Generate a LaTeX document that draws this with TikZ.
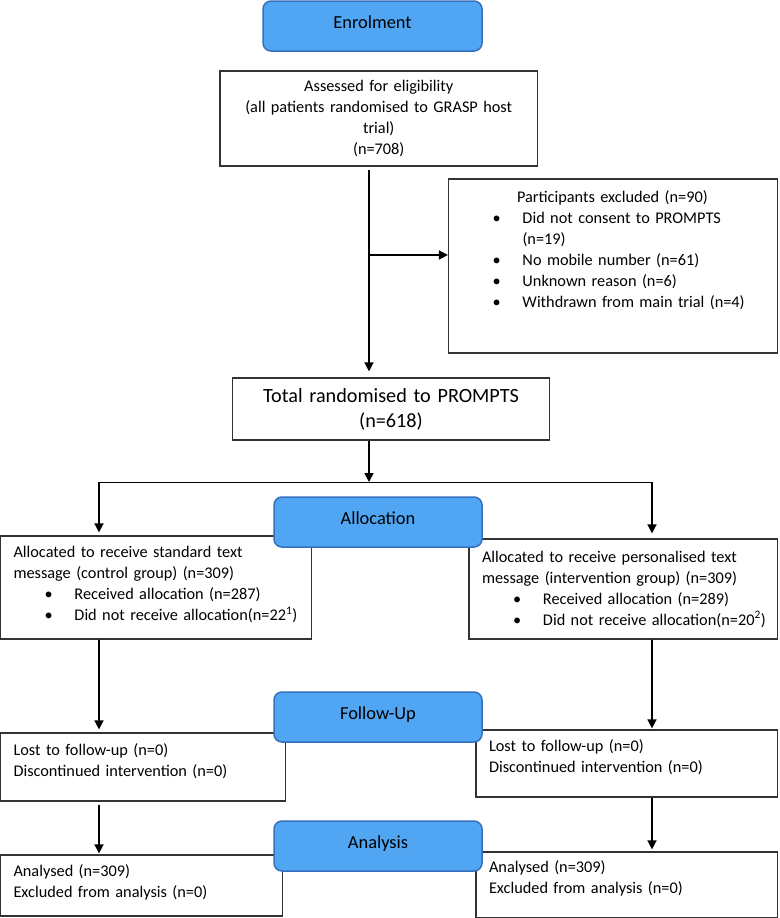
\documentclass[tikz,border=0pt]{standalone}
\usepackage{fontspec}
\setmainfont{Carlito}
\usetikzlibrary{arrows.meta}
\definecolor{faseAzul}{RGB}{80,166,242}
\definecolor{bordeAzul}{RGB}{52,112,190}
\newcommand{\bitem}{\hspace*{31pt}\makebox[30pt][l]{\textbullet}}

\begin{document}
\begin{tikzpicture}[
    x=1pt, y=-1pt,
    fase/.style={draw=bordeAzul, line width=1.5pt, fill=faseAzul, rounded corners=8pt,
        minimum width=208pt, minimum height=50pt, inner sep=0pt, text depth=8pt,
        font=\fontsize{18.4}{22}\selectfont},
    caja/.style={draw=black!80, line width=1.2pt, fill=white, inner xsep=13pt, inner ysep=0pt,
        align=left, font=\fontsize{16.3}{21}\selectfont},
    flecha/.style={-{Triangle[length=9pt,width=9pt]}, line width=1.5pt},
]
    \useasboundingbox (0,0) rectangle (779,918);

    % --- ENROLMENT ---
    \node[caja, align=center, minimum width=317.5pt, minimum height=95pt, text width=291.5pt]
        (assess) at (378.75,118.5) {Assessed for eligibility\\(all patients randomised to GRASP host\\trial)\\(n=708)};
    \node[caja, minimum width=329pt, minimum height=174pt, text width=303pt] (excl) at (613,266)
        {\parbox[t][150pt][t]{303pt}{\raggedright
        \hspace*{55.5pt}Participants excluded (n=90)\\
        \bitem Did not consent to PROMPTS\\
        \hspace*{61pt}(n=19)\\
        \bitem No mobile number (n=61)\\
        \bitem Unknown reason (n=6)\\
        \bitem Withdrawn from main trial (n=4)}};
    \node[caja, align=center, minimum width=317.5pt, minimum height=62pt, text width=291.5pt,
        font=\fontsize{20.2}{25}\selectfont] (total) at (391,409) {Total randomised to PROMPTS\\(n=618)};

    \coordinate (trunk) at (369,255);
    \draw[line width=1.5pt, shorten <=3pt, shorten >=6pt, -{Triangle[length=9pt,width=9pt]}]
        (assess.south -| trunk) -- (total.north -| trunk);
    \draw[flecha] (trunk) -- (excl.west |- trunk);

    % --- ALLOCATION ---
    \node[caja, minimum width=311pt, minimum height=103pt, text width=285pt, text depth=71pt]
        (ctrl) at (156,587.5) {Allocated to receive standard text\\message (control group) (n=309)\\
        \bitem Received allocation (n=287)\\
        \mbox{\bitem Did not receive allocation(n=22\textsuperscript{1})}};
    \node[caja, minimum width=308.5pt, minimum height=100pt, text width=282.5pt]
        (intv) at (623.25,589) {Allocated to receive personalised text\\message (intervention group) (n=309)\\
        \bitem Received allocation (n=289)\\
        \mbox{\bitem Did not receive allocation(n=20\textsuperscript{2})}};

    \coordinate (forkL) at (99,482);
    \coordinate (forkR) at (652,482);
    \draw[flecha] (total.south -| trunk) -- (trunk |- forkL);
    \draw[line width=1pt] (forkL) -- (forkR);
    \draw[flecha, shorten >=3pt] (forkL) -- (forkL |- ctrl.north);
    \draw[flecha, shorten >=5pt] (forkR) -- (forkR |- intv.north);

    % --- FOLLOW-UP ---
    \node[caja, minimum width=285pt, minimum height=68pt, text width=259pt, text depth=35pt]
        (fctrl) at (143,767) {Lost to follow-up (n=0)\\Discontinued intervention (n=0)};
    \node[caja, minimum width=301.5pt, minimum height=67pt, text width=275.5pt, text depth=35pt]
        (fintv) at (626.75,763.5) {Lost to follow-up (n=0)\\Discontinued intervention (n=0)};
    \draw[flecha, shorten >=3pt] (ctrl.south -| forkL) -- (fctrl.north -| forkL);
    \draw[flecha, shorten >=1pt] (intv.south -| forkR) -- (fintv.north -| forkR);

    % --- ANALYSIS ---
    \node[caja, minimum width=282pt, minimum height=61pt, text width=256pt, text depth=29pt]
        (actrl) at (141.5,885.5) {Analysed (n=309)\\Excluded from analysis (n=0)};
    \node[caja, minimum width=301.5pt, minimum height=66pt, text width=275.5pt, text depth=36pt]
        (aintv) at (626.75,885) {Analysed (n=309)\\Excluded from analysis (n=0)};
    \draw[flecha, shorten <=3pt, shorten >=1pt] (fctrl.south -| forkL) -- (actrl.north -| forkL);
    \draw[flecha, shorten >=2pt] (fintv.south -| forkR) -- (aintv.north -| forkR);

    % --- PHASE LABELS ---
    \node[fase, minimum width=219pt] (enrol) at (372.5,26) {Enrolment};
    \node[fase] (alloc) at (378,522) {Allocation};
    \node[fase] (follow) at (378,717) {Follow-Up};
    \node[fase] (anal) at (378,846) {Analysis};

\end{tikzpicture}
\end{document}
